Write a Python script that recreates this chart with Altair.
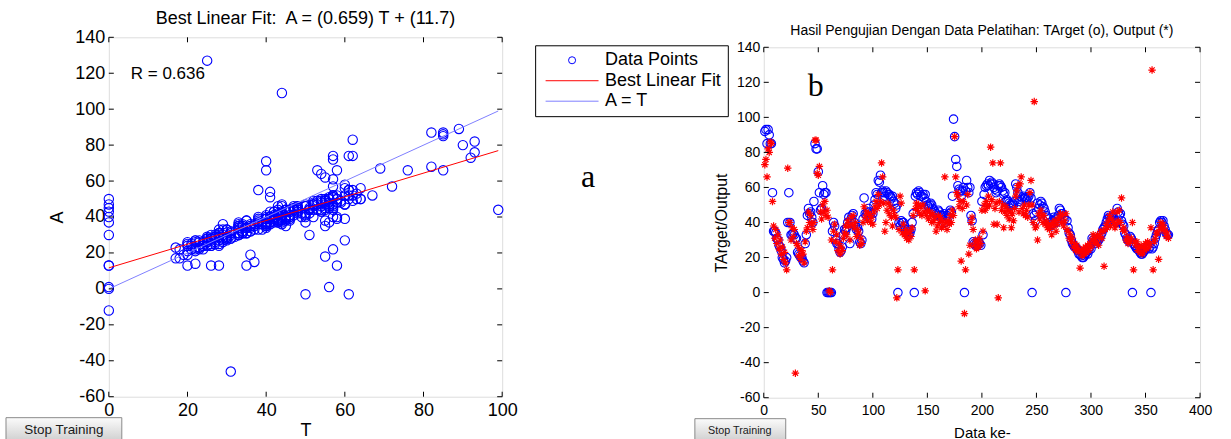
import altair as alt
import pandas as pd

FONT = "Liberation Sans"
SERIF = "Liberation Serif"

# ---------------- data ----------------
target = [
    92, 93, 85, 93, 90, 85, 85, 57, 35, 35,
    34, 31, 30, 27, 26, 24, 20, 19, 17, 18,
    20, 40, 57, 40, 33, 33, 34, 33, 31, 31,
    23, 22, 21, 20, 20, 18, 17, 28, 33, 44,
    48, 45, 46, 43, 40, 52, 85, 82, 82, 69,
    57, 47, 48, 61, 56, 57, 57, 0, 0, 0,
    0, 0, 35, 40, 38, 30, 28, 28, 25, 23,
    24, 26, 33, 36, 35, 37, 40, 43, 28, 42,
    44, 45, 40, 38, 36, 37, 35, 29, 28, 30,
    42, 54, 45, 44, 46, 48, 46, 45, 42, 45,
    50, 53, 57, 56, 64, 63, 67, 57, 58, 57,
    55, 58, 57, 56, 56, 55, 54, 55, 52, 51,
    48, 50, 0, 40, 38, 41, 40, 40, 38, 36,
    35, 35, 33, 34, 36, 40, 45, 0, 55, 57,
    56, 58, 57, 55, 55, 56, 54, 56, 52, 50,
    49, 50, 51, 50, 48, 47, 46, 45, 44, 47,
    46, 44, 43, 44, 45, 40, 42, 44, 43, 45,
    47, 46, 55, 99, 89, 76, 72, 61, 59, 58,
    55, 58, 60, 0, 58, 64, 60, 57, 60, 44,
    41, 29, 28, 27, 28, 27, 29, 28, 27, 52,
    33, 56, 60, 61, 62, 61, 64, 62, 63, 62,
    60, 59, 57, 58, 61, 62, 61, 60, 58, 56,
    57, 52, 53, 52, 51, 50, 50, 51, 50, 52,
    62, 60, 57, 52, 55, 53, 54, 55, 54, 54,
    53, 54, 55, 57, 54, 0, 45, 44, 41, 46,
    51, 48, 50, 52, 51, 49, 48, 46, 44, 43,
    42, 40, 38, 39, 41, 43, 42, 40, 42, 44,
    48, 47, 45, 45, 43, 42, 0, 41, 37, 34,
    33, 30, 28, 27, 26, 26, 25, 24, 22, 22,
    21, 20, 20, 21, 22, 23, 22, 24, 26, 25,
    31, 30, 29, 28, 30, 29, 30, 31, 33, 34,
    36, 37, 38, 40, 42, 44, 43, 42, 43, 43,
    42, 41, 40, 48, 46, 44, 45, 41, 39, 38,
    34, 33, 31, 30, 29, 32, 31, 0, 28, 27,
    26, 25, 25, 24, 23, 22, 22, 23, 24, 25,
    26, 27, 25, 26, 0, 25, 26, 28, 31, 33,
    35, 36, 40, 41, 40, 41, 38, 36, 34, 33, 33,
]

output = [
    73, 76, 66, 82, 80, 86, 85, 52, 38, 31,
    36, 28, 33, 25, 30, 22, 26, 19, 23, 17,
    13, 71, 40, 40, 30, 37, 32, 36, -46, 28,
    27, 21, 25, 19, 24, 22, 17, 29, 35, 37,
    46, 40, 44, 39, 36, 40, 87, 87, 68, 67,
    72, 46, 42, 50, 46, 52, 44, 47, 43, 1,
    0, 30, 13, 35, 39, 29, 33, 24, 28, 22,
    26, 24, 31, 34, 38, 33, 41, 38, 30, 43,
    39, 44, 37, 40, 32, 36, 34, 27, 31, 28,
    40, 49, 43, 46, 41, 45, 44, 40, 43, 39,
    46, 49, 52, 48, 56, 50, 52, 74, 66, 51,
    35, 40, 47, 51, 45, 49, 43, 38, 47, 44,
    43, -3, 13, 36, 55, 51, 34, 39, 33, 36,
    31, 34, 30, 35, 32, 37, 44, 13, 48, 51,
    47, 50, 45, 49, 44, 50, 46, 1, 44, 47,
    42, 46, 44, 40, 45, 41, 43, 35, 38, 44,
    40, 43, 37, 41, 38, 66, 40, 36, 41, 39,
    44, 40, 47, 44, 89, 66, 57, 55, 49, 52,
    18, 48, 52, -12, 13, 50, 56, 22, 27, 40,
    43, 36, 27, 30, 25, 29, 26, 31, 28, 47,
    35, 50, 47, 52, 49, 55, 50, 83, 53, 74,
    39, 48, 51, 39, -3, 52, 74, 47, 50, 37,
    46, 49, 44, 47, 42, 46, 37, 45, 41, 48,
    55, 58, 61, 46, 62, 66, 48, 45, 50, 44,
    47, 43, 50, 57, 64, 50, 40, 109, 37, 38,
    30, 45, 42, 47, 44, 40, 44, 39, 41, 37,
    39, 36, 38, 33, 40, 38, 41, 35, 39, 42,
    43, 45, 40, 44, 38, 41, 45, 36, 35, 31,
    33, 29, 31, 26, 28, 24, 27, 25, 23, 14,
    24, 21, 25, 22, 26, 23, 27, 24, 28, 26,
    30, 33, 28, 31, 29, 33, 27, 32, 35, 31,
    35, 15, 36, 39, 37, 41, 44, 38, 42, 46,
    40, 37, 39, 46, 41, 47, 40, 54, 36, 37,
    35, 30, 32, 28, 30, 29, 31, 40, 13, 29,
    27, 29, 24, 26, 23, 27, 22, 26, 24, 28,
    25, 29, 26, 28, 37, 127, 13, 29, 31, 34,
    34, 19, 37, 40, 36, 39, 37, 35, 32, 34, 31,
]

data_index = list(range(1, len(target) + 1))

fit_slope = 0.659
fit_intercept = 11.7
r_value = 0.636

left_x_ticks = [0, 20, 40, 60, 80, 100]
y_ticks = [-60, -40, -20, 0, 20, 40, 60, 80, 100, 120, 140]
right_x_ticks = [0, 50, 100, 150, 200, 250, 300, 350, 400]

legend_labels = ["Data Points", "Best Linear Fit", "A = T"]
legend_colors = ["#0000ff", "#ff0000", "#8080ff"]

left_title = f"Best Linear Fit:\u00a0 A = ({fit_slope}) T + ({fit_intercept})"
right_title = "Hasil Pengujian Dengan Data Pelatihan: TArget (o), Output (*)"

# ---------------- layout constants ----------------
LW, LH = 394, 360
RW, RH = 437, 351
STAR = "M-1,0L1,0M0,-1L0,1M-0.7,-0.7L0.7,0.7M-0.7,0.7L0.7,-0.7"
ONE = alt.Data(values=[{}])


def axis(values, title, fs, pad, tfs, tx, ty, angle=None):
    kw = dict(values=values, title=title, grid=False, domain=False, ticks=False,
              labelFont=FONT, labelFontSize=fs, labelColor="black", labelPadding=pad,
              labelFlush=False, labelOverlap=False, labelExpr="'' + datum.value",
              titleFont=FONT, titleFontSize=tfs, titleFontWeight="normal", titleColor="black",
              titleX=tx, titleY=ty, titleBaseline="middle", titleAlign="center")
    if angle is not None:
        kw["titleAngle"] = angle
    return alt.Axis(**kw)


def frame_ticks(xvals, yvals, xenc, yenc, W, H, L=5):
    xd = alt.Data(values=[{"v": v} for v in xvals])
    yd = alt.Data(values=[{"v": v} for v in yvals])
    out = []
    for y1, y2 in [(H, H - L), (0, L)]:
        out.append(alt.Chart(xd).mark_rule(color="black", strokeWidth=1).encode(
            x=xenc("v:Q"), y=alt.value(y1), y2=alt.value(y2)))
    for x1, x2 in [(0, L), (W, W - L)]:
        out.append(alt.Chart(yd).mark_rule(color="black", strokeWidth=1).encode(
            y=yenc("v:Q"), x=alt.value(x1), x2=alt.value(x2)))
    return out


def button(x1, x2, y1, y2, fs, tx, ty):
    grad = alt.LinearGradient(
        gradient="linear",
        stops=[alt.GradientStop(color="#fbfbfb", offset=0),
               alt.GradientStop(color="#d2d2d2", offset=1)],
        x1=0, x2=0, y1=0, y2=1)
    r = alt.Chart(ONE).mark_rect(fill=grad, stroke="#8a8a8a", strokeWidth=1).encode(
        x=alt.value(x1), x2=alt.value(x2), y=alt.value(y1), y2=alt.value(y2))
    t = alt.Chart(ONE).mark_text(text="Stop Training", font=FONT, fontSize=fs, color="#1a1a1a",
                                 align="center", baseline="middle").encode(
        x=alt.value(tx), y=alt.value(ty))
    return [r, t]


def bounds_rect(x1, x2, y1, y2):
    return alt.Chart(ONE).mark_rect(opacity=0).encode(
        x=alt.value(x1), x2=alt.value(x2), y=alt.value(y1), y2=alt.value(y2))


def label_text(text, x, y, font, size, align="center", baseline="middle"):
    return alt.Chart(ONE).mark_text(text=text, font=font, fontSize=size, color="black",
                                    align=align, baseline=baseline).encode(
        x=alt.value(x), y=alt.value(y))


# ---------------- left panel ----------------
scatter_df = pd.DataFrame({"T": target, "A": output, "series": legend_labels[0]})
t_span = [min(target), max(target)]
fit_df = pd.DataFrame({"T": t_span, "A": [fit_slope * t + fit_intercept for t in t_span]})
ident_df = pd.DataFrame({"T": t_span, "A": t_span})

lx_scale = alt.Scale(domain=[0, 100], nice=False, zero=False)
ly_scale = alt.Scale(domain=[-60, 140], nice=False, zero=False)
lx_axis = axis(left_x_ticks, "T", 18, 5, 18, LW / 2, 34)
ly_axis = axis(y_ticks, "A", 18, 4, 18, -51, LH / 2, 270)


def LX(f):
    return alt.X(f, scale=lx_scale, axis=lx_axis)


def LY(f):
    return alt.Y(f, scale=ly_scale, axis=ly_axis)


leg = alt.Legend(title=None, orient="none", legendX=427, legendY=8, direction="vertical",
                 strokeColor="black", fillColor="white", padding=6,
                 labelFont=FONT, labelFontSize=18, labelColor="black",
                 symbolSize=50, symbolStrokeWidth=1, symbolOffset=22, labelOffset=24,
                 rowPadding=2.5)

scatter = alt.Chart(scatter_df).mark_point(filled=False, size=88, strokeWidth=1.1, opacity=1).encode(
    x=LX("T:Q"), y=LY("A:Q"),
    color=alt.Color("series:N", scale=alt.Scale(domain=legend_labels, range=legend_colors), legend=leg),
    shape=alt.Shape("series:N", scale=alt.Scale(domain=legend_labels,
                                                range=["circle", "M-7.5,0H7.5", "M-7.5,0H7.5"]), legend=leg),
)
fit_line = alt.Chart(fit_df).mark_line(color=legend_colors[1], strokeWidth=1).encode(
    x=LX("T:Q"), y=LY("A:Q"))
ident_line = alt.Chart(ident_df).mark_line(color=legend_colors[2], strokeWidth=1).encode(
    x=LX("T:Q"), y=LY("A:Q"))

left = alt.layer(
    scatter, fit_line, ident_line,
    *frame_ticks(left_x_ticks, y_ticks, LX, LY, LW, LH),
    bounds_rect(-108, 0, -36, 403),
    label_text(left_title, LW / 2, -18, FONT, 18),
    label_text(f"R = {r_value}", 22, 37, FONT, 17, align="left"),
    label_text("a", 480, 150, SERIF, 32, baseline="alphabetic"),
    *button(-103, 13, 381, 403, 13.5, -45, 393),
).properties(width=LW, height=LH)

# ---------------- right panel ----------------
right_df = pd.DataFrame({"idx": data_index, "target": target, "output": output})
rx_scale = alt.Scale(domain=[0, 400], nice=False, zero=False)
ry_scale = alt.Scale(domain=[-60, 140], nice=False, zero=False)
rx_axis = axis(right_x_ticks, "Data ke-", 14, 6, 15, RW / 2, 35)
ry_axis = axis(y_ticks, "TArget/Output", 14, 4, 16, -42, RH / 2, 270)


def RX(f):
    return alt.X(f, scale=rx_scale, axis=rx_axis)


def RY(f):
    return alt.Y(f, scale=ry_scale, axis=ry_axis)


circles = alt.Chart(right_df).mark_point(shape="circle", filled=False, size=72, strokeWidth=1.1,
                                         color="#0000ff", opacity=1).encode(
    x=RX("idx:Q"), y=RY("target:Q"))
stars = alt.Chart(right_df).mark_point(shape=STAR, filled=False, size=56, strokeWidth=1.2,
                                       color="#ff0000", opacity=1).encode(
    x=RX("idx:Q"), y=RY("output:Q"))

right = alt.layer(
    circles, stars,
    *frame_ticks(right_x_ticks, y_ticks, RX, RY, RW, RH),
    bounds_rect(0, 467, -46, 393),
    label_text(right_title, RW / 2, -16, FONT, 14),
    label_text("b", 52, 49, SERIF, 32, baseline="alphabetic"),
    *button(-69, 22, 372, 393, 10.8, -24, 384),
).properties(width=RW, height=RH)

spacer = alt.Chart(ONE).mark_point(opacity=0).encode(
    x=alt.value(0), y=alt.value(0)
).properties(width=RW, height=10, view=alt.ViewBackground(stroke="transparent"))

right_group = alt.vconcat(spacer, right, spacing=0, bounds="flush")

chart = alt.hconcat(left, right_group, spacing=262, bounds="flush").properties(
    padding=0, background="white"
).configure_view(stroke="black", strokeWidth=1).configure(font=FONT)

chart.save("out.html", embed_options={"renderer": "svg", "actions": False})
